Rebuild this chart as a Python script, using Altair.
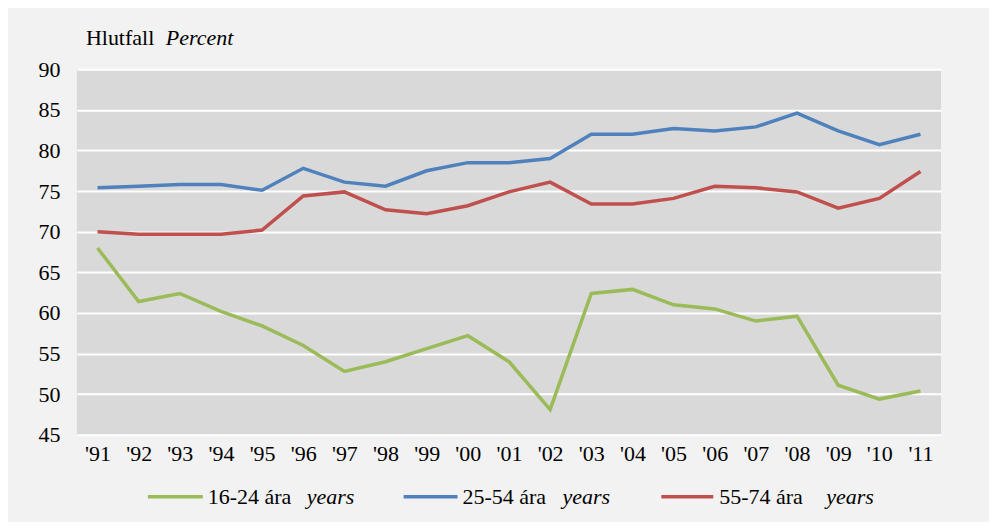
import altair as alt
import pandas as pd

years = ["'91", "'92", "'93", "'94", "'95", "'96", "'97", "'98", "'99", "'00", "'01",
         "'02", "'03", "'04", "'05", "'06", "'07", "'08", "'09", "'10", "'11"]
age_16_24 = [68.0, 61.4, 62.4, 60.2, 58.4, 56.0, 52.8, 54.0, 55.6, 57.2, 54.0,
             48.1, 62.4, 62.9, 61.0, 60.5, 59.0, 59.6, 51.1, 49.4, 50.4]
age_25_54 = [75.4, 75.6, 75.8, 75.8, 75.1, 77.8, 76.1, 75.6, 77.5, 78.5, 78.5,
             79.0, 82.0, 82.0, 82.7, 82.4, 82.9, 84.6, 82.4, 80.7, 82.0]
age_55_74 = [70.0, 69.7, 69.7, 69.7, 70.2, 74.4, 74.9, 72.7, 72.2, 73.2, 74.9,
             76.1, 73.4, 73.4, 74.1, 75.6, 75.4, 74.9, 72.9, 74.1, 77.4]
series_names = ["16-24", "25-54", "55-74"]
series_colors = ["#9bbb59", "#4f81bd", "#c0504d"]
y_ticks = [45, 50, 55, 60, 65, 70, 75, 80, 85, 90]

rows = []
for name, vals in zip(series_names, [age_16_24, age_25_54, age_55_74]):
    for yr, v in zip(years, vals):
        rows.append({"year": yr, "value": v, "series": name})
df = pd.DataFrame(rows)

FONT = "Liberation Serif"
FS = 22
W, H = 865, 366

lines = alt.Chart(df).mark_line(strokeWidth=3.5).encode(
    x=alt.X("year:N", sort=years, scale=alt.Scale(type="point", padding=0.5),
            axis=alt.Axis(title=None, labelAngle=0, ticks=False, domain=False,
                          labelPadding=9, labelFont=FONT, labelFontSize=FS,
                          labelColor="#000000", grid=False)),
    y=alt.Y("value:Q", scale=alt.Scale(domain=[45, 90], nice=False, zero=False),
            axis=alt.Axis(title=None, values=y_ticks, ticks=False, domain=False,
                          labelPadding=17, labelFont=FONT, labelFontSize=FS,
                          labelColor="#000000", grid=True, gridColor="#ffffff",
                          gridWidth=2, gridOpacity=1)),
    color=alt.Color("series:N", scale=alt.Scale(domain=series_names, range=series_colors),
                    legend=None),
    detail="series:N",
)

def txt(s, x, y, italic=False):
    return alt.Chart(pd.DataFrame({"t": [s]})).mark_text(
        font=FONT, fontSize=FS, align="left", baseline="alphabetic",
        fontStyle="italic" if italic else "normal", color="#000000"
    ).encode(text="t:N", x=alt.value(x), y=alt.value(y))

def swatch(color, x1, x2, y):
    return alt.Chart(pd.DataFrame({"a": [0]})).mark_rule(
        color=color, strokeWidth=3.5).encode(
        x=alt.value(x1), x2=alt.value(x2), y=alt.value(y))

ly = 428
lb = ly + 7
layers = [lines,
          txt("Hlutfall", 9, -24), txt("Percent", 89, -24, italic=True),
          swatch(series_colors[0], 71, 126, ly), txt("16-24 ára", 131, lb), txt("years", 230, lb, True),
          swatch(series_colors[1], 327, 381, ly), txt("25-54 ára", 386, lb), txt("years", 486, lb, True),
          swatch(series_colors[2], 585, 637, ly), txt("55-74 ára", 643, lb), txt("years", 750, lb, True)]

chart = alt.layer(*layers).properties(
    width=W, height=H,
    autosize=alt.AutoSizeParams(type="none"),
    padding={"left": 69, "top": 61, "right": 48, "bottom": 87},
    background="#f2f2f2",
).configure_view(fill="#d9d9d9", stroke=None)

chart.save("out.html", embed_options={"renderer": "svg", "actions": False})
